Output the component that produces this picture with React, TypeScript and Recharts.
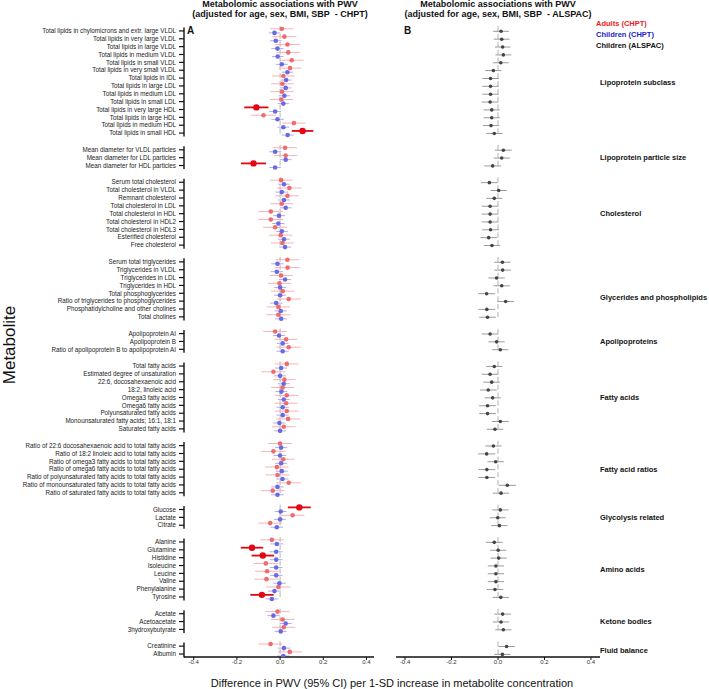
import React from "react";
import { ComposedChart, Scatter, ErrorBar, XAxis, YAxis, ReferenceLine } from "recharts";

const groupNames = [
  "Lipoprotein subclass",
  "Lipoprotein particle size",
  "Cholesterol",
  "Glycerides and phospholipids",
  "Apolipoproteins",
  "Fatty acids",
  "Fatty acid ratios",
  "Glycolysis related",
  "Amino acids",
  "Ketone bodies",
  "Fluid balance",
];
const groupSizes = [14, 3, 9, 8, 3, 9, 7, 3, 8, 3, 2];

const metabolites = [
  "Total lipids in chylomicrons and extr. large VLDL",
  "Total lipids in very large VLDL",
  "Total lipids in large VLDL",
  "Total lipids in medium VLDL",
  "Total lipids in small VLDL",
  "Total lipids in very small VLDL",
  "Total lipids in IDL",
  "Total lipids in large LDL",
  "Total lipids in medium LDL",
  "Total lipids in small LDL",
  "Total lipids in very large HDL",
  "Total lipids in large HDL",
  "Total lipids in medium HDL",
  "Total lipids in small HDL",
  "Mean diameter for VLDL particles",
  "Mean diameter for LDL particles",
  "Mean diameter for HDL particles",
  "Serum total cholesterol",
  "Total cholesterol in VLDL",
  "Remnant cholesterol",
  "Total cholesterol in LDL",
  "Total cholesterol in HDL",
  "Total cholesterol in HDL2",
  "Total cholesterol in HDL3",
  "Esterified cholesterol",
  "Free cholesterol",
  "Serum total triglycerides",
  "Triglycerides in VLDL",
  "Triglycerides in LDL",
  "Triglycerides in HDL",
  "Total phosphoglycerides",
  "Ratio of triglycerides to phosphoglycerides",
  "Phosphatidylcholine and other cholines",
  "Total cholines",
  "Apolipoprotein AI",
  "Apolipoprotein B",
  "Ratio of apolipoprotein B to apolipoprotein AI",
  "Total fatty acids",
  "Estimated degree of unsaturation",
  "22:6, docosahexaenoic acid",
  "18:2, linoleic acid",
  "Omega3 fatty acids",
  "Omega6 fatty acids",
  "Polyunsaturated fatty acids",
  "Monounsaturated fatty acids; 16:1, 18:1",
  "Saturated fatty acids",
  "Ratio of 22:6 docosahexaenoic acid to total fatty acids",
  "Ratio of 18:2 linoleic acid to total fatty acids",
  "Ratio of omega3 fatty acids to total fatty acids",
  "Ratio of omega6 fatty acids to total fatty acids",
  "Ratio of polyunsaturated fatty acids to total fatty acids",
  "Ratio of monounsaturated fatty acids to total fatty acids",
  "Ratio of saturated fatty acids to total fatty acids",
  "Glucose",
  "Lactate",
  "Citrate",
  "Alanine",
  "Glutamine",
  "Histidine",
  "Isoleucine",
  "Leucine",
  "Valine",
  "Phenylalanine",
  "Tyrosine",
  "Acetate",
  "Acetoacetate",
  "3hydroxybutyrate",
  "Creatinine",
  "Albumin",
];

// Adults (CHPT): estimate and half width of the 95% CI
const adultsEst = [
  0.008, 0.02, 0.034, 0.038, 0.054, 0.046, 0.015, 0.011, 0.009, 0.006, -0.11, -0.077, 0.064, 0.104,
  0.023, 0.026, -0.123,
  0.005, 0.043, 0.034, 0.008, -0.043, -0.043, -0.023, 0.003, 0.011,
  0.034, 0.035, 0.005, -0.003, 0.012, 0.04, -0.008, -0.008,
  -0.023, 0.028, 0.04,
  0.031, -0.031, 0.02, 0.012, 0.031, 0.028, 0.031, 0.037, 0.017,
  0.0, -0.031, 0.015, -0.015, -0.012, 0.04, -0.034,
  0.089, 0.058, -0.046,
  -0.038, -0.13, -0.08, -0.066, -0.06, -0.063, -0.008, -0.084,
  -0.012, 0.012, 0.017,
  -0.044, 0.045,
];
const adultsCi = [
  0.054, 0.056, 0.058, 0.055, 0.055, 0.052, 0.053, 0.052, 0.054, 0.053, 0.056, 0.058, 0.054, 0.05,
  0.055, 0.054, 0.058,
  0.053, 0.057, 0.054, 0.053, 0.056, 0.058, 0.055, 0.054, 0.053,
  0.055, 0.058, 0.053, 0.054, 0.053, 0.056, 0.054, 0.055,
  0.055, 0.053, 0.056,
  0.055, 0.057, 0.052, 0.053, 0.054, 0.053, 0.054, 0.056, 0.055,
  0.055, 0.056, 0.053, 0.054, 0.056, 0.057, 0.055,
  0.053, 0.055, 0.054,
  0.055, 0.052, 0.052, 0.056, 0.056, 0.057, 0.056, 0.054,
  0.056, 0.055, 0.054,
  0.055, 0.056,
];
const adultsHighlighted = [
  "Total lipids in very large HDL",
  "Total lipids in small HDL",
  "Mean diameter for HDL particles",
  "Glucose",
  "Glutamine",
  "Histidine",
  "Tyrosine",
];

// Children (CHPT)
const childrenEst = [
  -0.026, -0.02, -0.012, -0.011, 0.008, 0.034, 0.028, 0.026, 0.02, 0.015, -0.023, -0.012, 0.015, 0.035,
  -0.023, 0.026, -0.023,
  0.018, 0.008, 0.018, 0.026, -0.005, -0.008, 0.008, 0.018, 0.023,
  -0.012, -0.015, 0.023, 0.0, 0.0, -0.018, 0.003, 0.005,
  -0.005, 0.012, 0.012,
  0.005, 0.0, 0.017, 0.006, 0.017, 0.012, 0.012, -0.003, 0.0,
  0.005, 0.0, 0.005, 0.008, 0.011, -0.012, -0.012,
  0.003, 0.0, -0.015,
  -0.015, -0.018, -0.018, -0.018, -0.018, -0.003, -0.026, -0.038,
  -0.031, 0.026, 0.003,
  0.018, 0.015,
];
const childrenCi = [
  0.027, 0.027, 0.028, 0.027, 0.028, 0.027, 0.026, 0.026, 0.027, 0.026, 0.028, 0.029, 0.028, 0.028,
  0.028, 0.027, 0.027,
  0.027, 0.029, 0.028, 0.027, 0.028, 0.028, 0.028, 0.027, 0.027,
  0.029, 0.029, 0.027, 0.028, 0.027, 0.029, 0.028, 0.028,
  0.028, 0.027, 0.028,
  0.028, 0.029, 0.027, 0.028, 0.027, 0.028, 0.028, 0.029, 0.028,
  0.028, 0.029, 0.028, 0.028, 0.028, 0.029, 0.029,
  0.028, 0.028, 0.029,
  0.03, 0.03, 0.029, 0.029, 0.029, 0.029, 0.03, 0.03,
  0.029, 0.028, 0.028,
  0.029, 0.028,
];

// Children (ALSPAC)
const alspacEst = [
  0.013, 0.016, 0.02, 0.023, 0.012, -0.02, -0.032, -0.032, -0.032, -0.034, -0.027, -0.027, -0.03, -0.016,
  0.023, 0.016, -0.023,
  -0.037, 0.003, -0.016, -0.034, -0.034, -0.034, -0.032, -0.04, -0.026,
  0.019, 0.02, -0.006, 0.016, -0.049, 0.033, -0.048, -0.045,
  -0.034, -0.006, 0.01,
  -0.016, -0.034, -0.027, -0.042, -0.023, -0.045, -0.045, 0.01, -0.013,
  -0.02, -0.049, -0.01, -0.048, -0.048, 0.04, 0.013,
  0.01, -0.001, 0.006,
  -0.016, 0.001, 0.003, -0.009, -0.009, -0.009, -0.013, 0.012,
  0.02, 0.013, 0.023,
  0.037, 0.019,
];
const alspacCi = [
  0.034, 0.034, 0.033, 0.034, 0.034, 0.035, 0.036, 0.036, 0.036, 0.036, 0.035, 0.035, 0.035, 0.035,
  0.036, 0.035, 0.036,
  0.036, 0.035, 0.035, 0.036, 0.036, 0.036, 0.036, 0.036, 0.035,
  0.035, 0.036, 0.035, 0.035, 0.036, 0.036, 0.036, 0.036,
  0.036, 0.035, 0.035,
  0.035, 0.036, 0.036, 0.036, 0.035, 0.036, 0.036, 0.036, 0.035,
  0.035, 0.037, 0.035, 0.036, 0.036, 0.037, 0.035,
  0.035, 0.034, 0.035,
  0.036, 0.035, 0.035, 0.035, 0.035, 0.035, 0.035, 0.035,
  0.036, 0.035, 0.035,
  0.036, 0.035,
];

const xTicks = [-0.4, -0.2, 0, 0.2, 0.4];

const FONT = "'Liberation Sans', Arial, Helvetica, sans-serif";
const GROUP_GAP = 1.13;
const Y_DOMAIN: [number, number] = [-0.5, 79.68];

// row positions (groups separated by a small gap)
const groupOfRow: number[] = [];
groupSizes.forEach((n, g) => {
  for (let k = 0; k < n; k++) groupOfRow.push(g);
});
const rowPos = metabolites.map((_, i) => i + groupOfRow[i] * GROUP_GAP);
const rowLabel = new Map(rowPos.map((p, i) => [p.toFixed(3), metabolites[i]]));

const groups = groupNames.map((name, g) => {
  const idx = groupOfRow.map((gg, i) => (gg === g ? i : -1)).filter((i) => i >= 0);
  const first = rowPos[idx[0]];
  const last = rowPos[idx[idx.length - 1]];
  return { name, first, last, mid: (first + last) / 2 + (g === 3 ? 1 : 0) };
});

const makeSeries = (est: number[], ci: number[], offset: number) =>
  metabolites.map((name, i) => ({
    name,
    pos: rowPos[i] + offset,
    est: est[i],
    err: [ci[i], ci[i]],
  }));

const adults = makeSeries(adultsEst, adultsCi, -0.27);
const adultsLight = adults.filter((d) => !adultsHighlighted.includes(d.name));
const adultsStrong = adults.filter((d) => adultsHighlighted.includes(d.name));
const children = makeSeries(childrenEst, childrenCi, 0.25);
const alspac = makeSeries(alspacEst, alspacCi, 0.05);

const dot = (r: number, fill: string) => (p: any) =>
  <circle cx={p.cx} cy={p.cy} r={r} fill={fill} />;

// plain svg text so long names are never wrapped
const RowTick = (p: any) => (
  <text x={p.x} y={p.y} dy="0.355em" textAnchor="end" fontSize={6.3} fill="#222">
    {rowLabel.get(Number(p.payload.value).toFixed(3)) ?? ""}
  </text>
);

const zeroLines = () =>
  groups.map((g) => (
    <ReferenceLine
      key={"z" + g.name}
      segment={[
        { x: 0, y: g.first - 0.62 },
        { x: 0, y: g.last + 0.1 },
      ]}
      stroke="#a0a0a0"
      strokeWidth={0.8}
      strokeDasharray="5 2.86"
      ifOverflow="visible"
    />
  ));

const xAxisProps = {
  type: "number" as const,
  dataKey: "est",
  ticks: xTicks,
  interval: 0 as const,
  allowDataOverflow: true,
  height: 20,
  tickSize: 3,
  tickMargin: 0,
  tick: { fontSize: 6, fill: "#333" },
  tickFormatter: (v: number) => v.toFixed(1),
  axisLine: { stroke: "#111", strokeWidth: 1.3 },
  tickLine: { stroke: "#111", strokeWidth: 1 },
};

function PanelA() {
  const domain: [number, number] = [-0.445, 0.435];
  return (
    <ComposedChart width={400} height={689} margin={{ top: 27, right: 26, bottom: 12, left: 0 }}>
      <XAxis {...xAxisProps} domain={domain} />
      <YAxis
        type="number"
        dataKey="pos"
        domain={Y_DOMAIN}
        reversed
        allowDataOverflow
        ticks={rowPos}
        interval={0}
        width={184}
        axisLine={false}
        tickSize={5}
        tickMargin={3}
        tickLine={{ stroke: "#111", strokeWidth: 1.2 }}
        tick={RowTick}
      />
      {groups.map((g) => (
        <ReferenceLine
          key={"ax" + g.name}
          segment={[
            { x: domain[0], y: g.first - 0.45 },
            { x: domain[0], y: g.last + 0.45 },
          ]}
          stroke="#111"
          strokeWidth={1.4}
          ifOverflow="visible"
        />
      ))}
      {zeroLines()}
      <Scatter data={adultsLight} shape={dot(2.3, "#ef6b6e")} isAnimationActive={false}>
        <ErrorBar dataKey="err" direction="x" width={0} stroke="#f7b3b5" strokeWidth={1} />
      </Scatter>
      <Scatter data={children} shape={dot(2.3, "#6a6ae0")} isAnimationActive={false}>
        <ErrorBar dataKey="err" direction="x" width={0} stroke="#aeaef2" strokeWidth={1} />
      </Scatter>
      <Scatter data={adultsStrong} shape={dot(3.2, "#e30613")} isAnimationActive={false}>
        <ErrorBar dataKey="err" direction="x" width={0} stroke="#e30613" strokeWidth={1.8} />
      </Scatter>
    </ComposedChart>
  );
}

function PanelB() {
  const domain: [number, number] = [-0.439, 0.439];
  return (
    <ComposedChart width={329} height={689} margin={{ top: 27, right: 109, bottom: 12, left: 16 }}>
      <XAxis {...xAxisProps} domain={domain} />
      <YAxis type="number" dataKey="pos" domain={Y_DOMAIN} reversed allowDataOverflow hide />
      {zeroLines()}
      {groups.map((g) => (
        <ReferenceLine
          key={"lab" + g.name}
          y={g.mid}
          stroke="none"
          ifOverflow="visible"
          label={{
            value: g.name,
            position: "right",
            offset: 0,
            fontSize: 7.5,
            fontWeight: 700,
            fill: "#111",
          }}
        />
      ))}
      <Scatter data={alspac} shape={dot(1.8, "#444")} isAnimationActive={false}>
        <ErrorBar dataKey="err" direction="x" width={0} stroke="#9a9a9a" strokeWidth={1} />
      </Scatter>
    </ComposedChart>
  );
}

const abs = (style: React.CSSProperties): React.CSSProperties => ({ position: "absolute", ...style });

export default function App() {
  return (
    <div
      style={{
        position: "absolute",
        left: 0,
        top: 0,
        width: 709,
        height: 689,
        background: "#fff",
        fontFamily: FONT,
        color: "#111",
        overflow: "hidden",
      }}
    >
      <div style={abs({ left: 0, top: 0 })}>
        <PanelA />
      </div>
      <div style={abs({ left: 380, top: 0 })}>
        <PanelB />
      </div>

      <div style={abs({ left: 160, top: 0, width: 240, textAlign: "center", fontSize: 9, fontWeight: 700, lineHeight: "9.5px" })}>
        Metabolomic associations with PWV
        <br />
        (adjusted for age, sex, BMI, SBP&nbsp; - CHPT)
      </div>
      <div style={abs({ left: 378, top: 0, width: 240, textAlign: "center", fontSize: 9, fontWeight: 700, lineHeight: "9.5px" })}>
        Metabolomic associations with PWV
        <br />
        (adjusted for age, sex, BMI, SBP&nbsp; - ALSPAC)
      </div>

      <div style={abs({ left: 187, top: 25, fontSize: 10, fontWeight: 700, lineHeight: "12px" })}>A</div>
      <div style={abs({ left: 404, top: 25, fontSize: 10, fontWeight: 700, lineHeight: "12px" })}>B</div>

      <div style={abs({ left: 596, top: 17.7, fontSize: 7.5, fontWeight: 700, lineHeight: "11.2px" })}>
        <div style={{ color: "#ee1c25" }}>Adults (CHPT)</div>
        <div style={{ color: "#2222c8" }}>Children (CHPT)</div>
        <div style={{ color: "#111" }}>Children (ALSPAC)</div>
      </div>

      <div
        style={abs({
          left: 10,
          top: 345,
          fontSize: 17,
          lineHeight: "20px",
          whiteSpace: "nowrap",
          transform: "translate(-50%, -50%) rotate(-90deg)",
        })}
      >
        Metabolite
      </div>

      <div style={abs({ left: 192, top: 676, width: 400, textAlign: "center", fontSize: 11, lineHeight: "14px", whiteSpace: "nowrap" })}>
        Difference in PWV (95% CI) per 1-SD increase in metabolite concentration
      </div>
    </div>
  );
}
